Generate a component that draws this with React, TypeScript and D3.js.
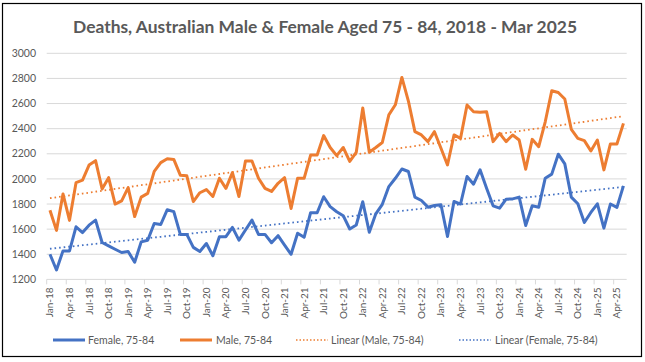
import React from 'react';
import * as d3 from 'd3';

// monthly deaths, Jan 2018 .. May 2025
const female = [
  1400, 1275, 1427, 1427, 1619, 1573, 1632, 1672, 1494, 1467, 1440, 1414,
  1422, 1337, 1499, 1512, 1645, 1637, 1755, 1740, 1558, 1558, 1455, 1422,
  1486, 1388, 1540, 1540, 1614, 1513, 1593, 1672, 1558, 1558, 1492, 1548,
  1473, 1400, 1567, 1535, 1731, 1731, 1858, 1779, 1739, 1707, 1601, 1633,
  1818, 1576, 1722, 1798, 1939, 2005, 2079, 2059, 1855, 1828, 1775, 1788,
  1794, 1542, 1820, 1800, 2019, 1958, 2072, 1926, 1786, 1767, 1839, 1841,
  1855, 1629, 1786, 1775, 2006, 2038, 2197, 2120, 1855, 1802, 1653, 1733,
  1802, 1608, 1800, 1773, 1945,
];

const male = [
  1750, 1590, 1880, 1670, 1970, 1990, 2110, 2145, 1920, 2010, 1800, 1825,
  1930, 1700, 1855, 1885, 2060, 2130, 2160, 2155, 2030, 2025, 1820, 1890,
  1915, 1860, 2005, 1925, 2050, 1860, 2143, 2143, 2005, 1925, 1900, 1965,
  2010, 1765, 2005, 2005, 2190, 2190, 2345, 2250, 2185, 2250, 2140, 2212,
  2565, 2212, 2250, 2290, 2510, 2590, 2808, 2620, 2376, 2350, 2297, 2376,
  2244, 2111, 2350, 2323, 2588, 2535, 2530, 2535, 2297, 2363, 2297, 2350,
  2310, 2077, 2315, 2257, 2455, 2702, 2688, 2636, 2395, 2323, 2305, 2223,
  2310, 2072, 2278, 2278, 2442,
];

const months = d3.timeMonth.range(new Date(2018, 0, 1), new Date(2025, 5, 1));
const monthLabel = d3.timeFormat('%b-%y');
const yTicks = [1200, 1400, 1600, 1800, 2000, 2200, 2400, 2600, 2800, 3000];

const BLUE = '#4472C4';
const ORANGE = '#ED7D31';
const TEXT = '#595959';
const GRID = '#D9D9D9';
const FONT = 'Lato, "Open Sans", sans-serif';

// least squares fit, same as Excel's linear trendline
function linearFit(vals: number[]) {
  const xs = vals.map((_, i) => i);
  const mx = d3.mean(xs)!;
  const my = d3.mean(vals)!;
  let num = 0, den = 0;
  vals.forEach((v, i) => { num += (i - mx) * (v - my); den += (i - mx) ** 2; });
  const slope = num / den;
  return xs.map(i => my + slope * (i - mx));
}

const App: React.FC = () => {
  const width = 645, height = 362;
  const left = 46.7, right = 626.7, top = 53.3, bottom = 279.4;

  const x = d3.scaleBand<number>()
    .domain(months.map((_, i) => i))
    .range([left, right])
    .padding(0);
  const cx = (i: number) => x(i)! + x.bandwidth() / 2;
  const y = d3.scaleLinear().domain([1200, 3000]).range([bottom, top]);

  const line = d3.line<number>().x((_, i) => cx(i)).y(d => y(d));

  const maleTrend = linearFit(male);
  const femaleTrend = linearFit(female);

  const labelIdx = months.map((_, i) => i).filter(i => i % 3 === 0);

  const legend = [
    { label: 'Female, 75-84', color: BLUE, dotted: false, x0: 53, tx: 88 },
    { label: 'Male, 75-84', color: ORANGE, dotted: false, x0: 180, tx: 216 },
    { label: 'Linear (Male, 75-84)', color: ORANGE, dotted: true, x0: 296, tx: 331 },
    { label: 'Linear (Female, 75-84)', color: BLUE, dotted: true, x0: 459, tx: 495 },
  ];

  return (
    <svg width={width} height={height} style={{ position: 'fixed', left: 0, top: 0, background: '#fff' }}
      fontFamily={FONT}>
      <rect x={2.5} y={3.5} width={639} height={353} fill="#fff" stroke="#000" strokeWidth={1.2} />

      <text x={325} y={33} textAnchor="middle" fontSize={17} fontWeight="bold" fill={TEXT}
        textLength={504} lengthAdjust="spacingAndGlyphs">
        Deaths, Australian Male &amp; Female Aged 75 - 84, 2018 - Mar 2025
      </text>

      {yTicks.map(t => (
        <g key={t}>
          <line x1={left} x2={right} y1={y(t)} y2={y(t)} stroke={GRID} strokeWidth={1} />
          <text x={36} y={y(t)} dy="0.35em" textAnchor="end" fontSize={10.5} fill={TEXT}>{t}</text>
        </g>
      ))}

      {labelIdx.map(i => (
        <g key={i}>
          <line x1={x(i)!} x2={x(i)!} y1={bottom} y2={bottom + 5} stroke={GRID} strokeWidth={1} />
          <text transform={`translate(${cx(i) + 3.5},${bottom + 8}) rotate(-90)`} textAnchor="end"
            fontSize={10} fill={TEXT}>{monthLabel(months[i])}</text>
        </g>
      ))}

      <path d={line(maleTrend)!} fill="none" stroke={ORANGE} strokeWidth={1.8} strokeDasharray="1.6 3" />
      <path d={line(femaleTrend)!} fill="none" stroke={BLUE} strokeWidth={1.8} strokeDasharray="1.6 3" />
      <path d={line(female)!} fill="none" stroke={BLUE} strokeWidth={3} strokeLinejoin="round" />
      <path d={line(male)!} fill="none" stroke={ORANGE} strokeWidth={3} strokeLinejoin="round" />

      {legend.map(l => (
        <g key={l.label}>
          <line x1={l.x0} x2={l.x0 + 32} y1={340} y2={340} stroke={l.color}
            strokeWidth={l.dotted ? 1.5 : 3} strokeDasharray={l.dotted ? '1.5 2' : undefined} />
          <text x={l.tx} y={340} dy="0.35em" fontSize={10.5} fill={TEXT}>{l.label}</text>
        </g>
      ))}
    </svg>
  );
};

export default App;
